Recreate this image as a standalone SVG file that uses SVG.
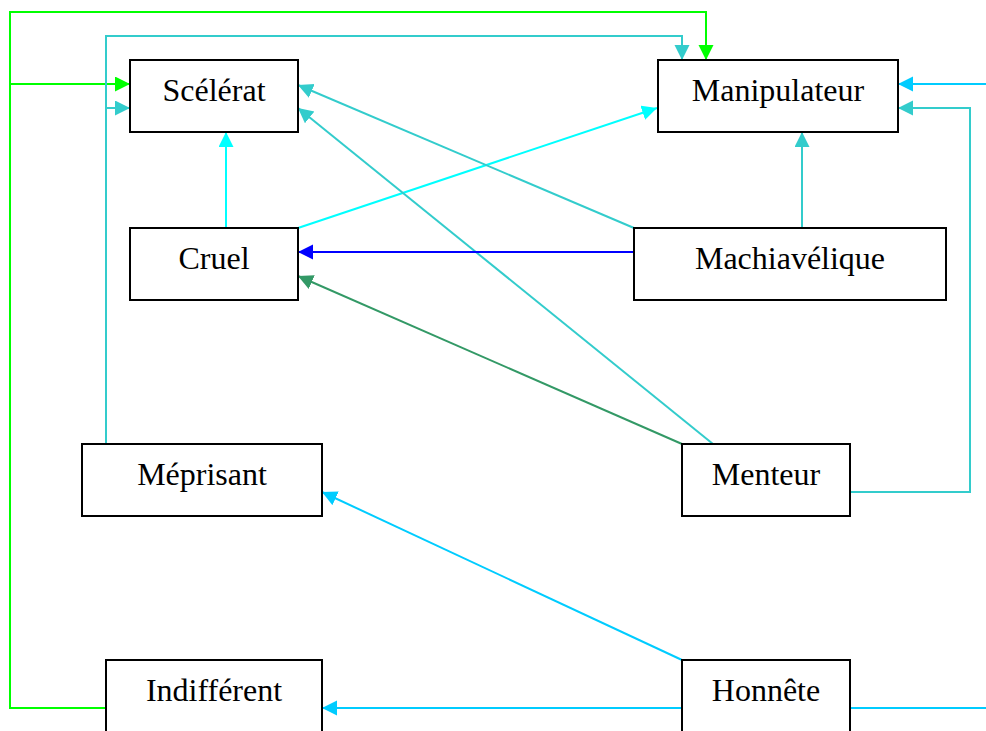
<svg xmlns="http://www.w3.org/2000/svg" width="986" height="731" viewBox="0 0 986 731">
<style>
.box{fill:#ffffff;stroke:#000000;stroke-width:2}
.lbl{font-family:"Liberation Serif","Times New Roman",serif;font-size:32px;fill:#000000;text-anchor:middle}
.e{fill:none;stroke-width:2}
.green{stroke:#00ff00}
.teal{stroke:#33cccc}
.cyan{stroke:#00ffff}
.sky{stroke:#00ccff}
.sea{stroke:#339966}
.blue{stroke:#0000ff}
</style>
<defs>
<marker id="aGreen" markerUnits="userSpaceOnUse" markerWidth="16" markerHeight="16" refX="15" refY="7.5" orient="auto"><path d="M0,0 L15,7.5 L0,15 z" fill="#00ff00"/></marker>
<marker id="aTeal" markerUnits="userSpaceOnUse" markerWidth="16" markerHeight="16" refX="15" refY="7.5" orient="auto"><path d="M0,0 L15,7.5 L0,15 z" fill="#33cccc"/></marker>
<marker id="aCyan" markerUnits="userSpaceOnUse" markerWidth="16" markerHeight="16" refX="15" refY="7.5" orient="auto"><path d="M0,0 L15,7.5 L0,15 z" fill="#00ffff"/></marker>
<marker id="aSky" markerUnits="userSpaceOnUse" markerWidth="16" markerHeight="16" refX="15" refY="7.5" orient="auto"><path d="M0,0 L15,7.5 L0,15 z" fill="#00ccff"/></marker>
<marker id="aSea" markerUnits="userSpaceOnUse" markerWidth="16" markerHeight="16" refX="15" refY="7.5" orient="auto"><path d="M0,0 L15,7.5 L0,15 z" fill="#339966"/></marker>
<marker id="aBlue" markerUnits="userSpaceOnUse" markerWidth="16" markerHeight="16" refX="15" refY="7.5" orient="auto"><path d="M0,0 L15,7.5 L0,15 z" fill="#0000ff"/></marker>
</defs>
<rect x="0" y="0" width="986" height="731" fill="#ffffff"/>
<g id="connectors">
<path class="e green" d="M106,708 L10,708 L10,12 L706,12 L706,60" marker-end="url(#aGreen)"/>
<path class="e green" d="M106,708 L10,708 L10,84 L130,84" marker-end="url(#aGreen)"/>
<path class="e teal" d="M106,444 L106,36 L682,36 L682,60" marker-end="url(#aTeal)"/>
<path class="e teal" d="M106,444 L106,108 L130,108" marker-end="url(#aTeal)"/>
<path class="e sky" d="M850,708 L994,708 L994,84 L898,84" marker-end="url(#aSky)"/>
<path class="e teal" d="M850,492 L970,492 L970,108 L898,108" marker-end="url(#aTeal)"/>
<path class="e cyan" d="M226,228 L226,132" marker-end="url(#aCyan)"/>
<path class="e cyan" d="M298,228 L657,108" marker-end="url(#aCyan)"/>
<path class="e teal" d="M634,228 L298,85" marker-end="url(#aTeal)"/>
<path class="e teal" d="M713,444 L298,108" marker-end="url(#aTeal)"/>
<path class="e teal" d="M802,228 L802,132" marker-end="url(#aTeal)"/>
<path class="e blue" d="M634,252 L298,252" marker-end="url(#aBlue)"/>
<path class="e sea" d="M682,444 L298,276" marker-end="url(#aSea)"/>
<path class="e sky" d="M682,660 L322,492" marker-end="url(#aSky)"/>
<path class="e sky" d="M682,708 L322,708" marker-end="url(#aSky)"/>
</g>
<g id="node-scelerat"><rect class="box" x="130" y="60" width="168" height="72"/><text class="lbl" x="214" y="101">Scélérat</text></g>
<g id="node-manipulateur"><rect class="box" x="658" y="60" width="240" height="72"/><text class="lbl" x="778" y="101">Manipulateur</text></g>
<g id="node-cruel"><rect class="box" x="130" y="228" width="168" height="72"/><text class="lbl" x="214" y="269">Cruel</text></g>
<g id="node-machiavelique"><rect class="box" x="634" y="228" width="312" height="72"/><text class="lbl" x="790" y="269">Machiavélique</text></g>
<g id="node-meprisant"><rect class="box" x="82" y="444" width="240" height="72"/><text class="lbl" x="202" y="485">Méprisant</text></g>
<g id="node-menteur"><rect class="box" x="682" y="444" width="168" height="72"/><text class="lbl" x="766" y="485">Menteur</text></g>
<g id="node-indifferent"><rect class="box" x="106" y="660" width="216" height="72"/><text class="lbl" x="214" y="701">Indifférent</text></g>
<g id="node-honnete"><rect class="box" x="682" y="660" width="168" height="72"/><text class="lbl" x="766" y="701">Honnête</text></g>
</svg>
